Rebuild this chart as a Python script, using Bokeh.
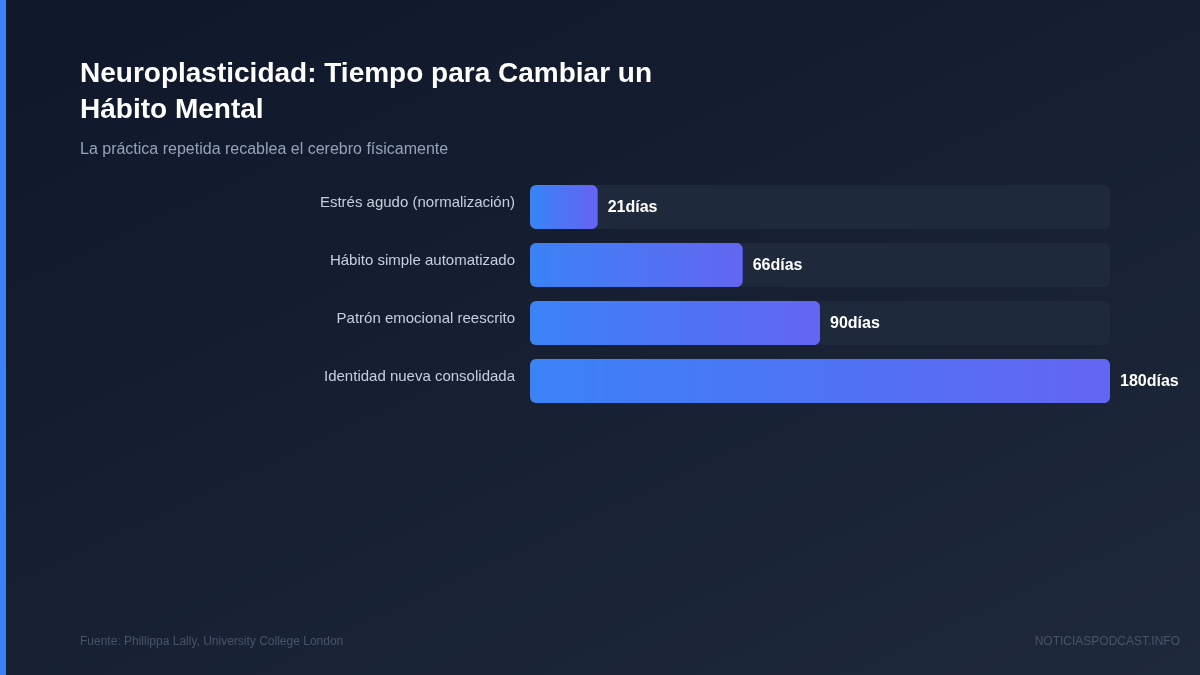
import numpy as np
from bokeh.core.properties import value
from bokeh.embed import file_html
from bokeh.models import ColumnDataSource, Label, Range1d
from bokeh.plotting import figure
from bokeh.resources import INLINE

TITLE_LINES = ["Neuroplasticidad: Tiempo para Cambiar un", "Hábito Mental"]
SUBTITLE = "La práctica repetida recablea el cerebro físicamente"
SOURCE = "Fuente: Phillippa Lally, University College London"
BRAND = "NOTICIASPODCAST.INFO"
categories = ["Estrés agudo (normalización)", "Hábito simple automatizado",
              "Patrón emocional reescrito", "Identidad nueva consolidada"]
days = [21, 66, 90, 180]
max_days = 180

# the svg backend draws half a pixel off: the figure sits at -1px and its ranges take up the other half
W, H = 1202, 677
OFF = 0.5
FONT = "Liberation Sans"
X0, PX_PER_DAY = 530, 580 / max_days
ROW0, ROW_STEP, BAR_H = 207, 58, 44
x_start, x_end = (-OFF - X0) / PX_PER_DAY, (W - OFF - X0) / PX_PER_DAY
y_bottom, y_top = -(H - OFF - ROW0) / ROW_STEP, (OFF + ROW0) / ROW_STEP

p = figure(width=W, height=H, output_backend="svg", toolbar_location=None,
           min_border=0, min_border_left=0, min_border_right=0, min_border_top=0, min_border_bottom=0,
           x_range=Range1d(x_start, x_end), y_range=Range1d(y_bottom, y_top),
           styles={"position": "fixed", "left": "-1px", "top": "-1px"})
p.xaxis.visible = False
p.yaxis.visible = False
p.grid.visible = False
p.outline_line_color = None
p.background_fill_color = "#0f172a"
p.border_fill_color = "#0f172a"

# page background: CSS-like linear gradient
ANGLE = np.radians(155)
yy, xx = np.mgrid[0:H, 0:W]
sx, sy = np.sin(ANGLE), -np.cos(ANGLE)
L = abs(W * sx) + abs(H * sy)
t = ((xx - W / 2) * sx + (yy - H / 2) * sy) / L + 0.5
c0, c1 = np.array([15, 23, 42]), np.array([30, 41, 59])
img = np.zeros((H, W), dtype=np.uint32)
view = img.view(dtype=np.uint8).reshape((H, W, 4))
for k in range(3):
    view[:, :, k] = np.round(c0[k] + (c1[k] - c0[k]) * t).astype(np.uint8)
view[:, :, 3] = 255
p.image_rgba(image=[img[::-1]], x=x_start, y=y_bottom, dw=W / PX_PER_DAY, dh=H / ROW_STEP)

# left accent stripe
p.quad(left=x_start, right=(6 - X0) / PX_PER_DAY, top=y_top, bottom=y_bottom,
       fill_color="#3b82f6", line_color=None)

rows = [-i for i in range(len(categories))]
bh = BAR_H / ROW_STEP
R = 6
dx, dy = R / PX_PER_DAY, R / ROW_STEP
ARC = np.linspace(0, np.pi / 2, 9)


def right_cap(row, v, color):
    """Right end of a bar: a flat-left piece with two true quarter circles, sized from the bar's value."""
    top, bottom = row + bh / 2, row - bh / 2
    cx = v - dx
    xs = [v - 2 * dx] + list(cx + dx * np.sin(ARC)) + list(cx + dx * np.cos(ARC)) + [v - 2 * dx]
    ys = [top] + list(top - dy + dy * np.cos(ARC)) + list(bottom + dy - dy * np.sin(ARC)) + [bottom]
    p.patch(x=xs, y=ys, fill_color=color, line_color=None)


# tracks
for row in rows:
    p.hbar(y=[row], left=0, right=max_days - dx, height=bh, fill_color="#1e293b", line_color=None, border_radius=R)
    right_cap(row, max_days, "#1e293b")

# gradient bars: flat strips painted from left to right, closed by a rounded cap
start, end = np.array([0x3b, 0x82, 0xf6]), np.array([0x63, 0x66, 0xf1])
for row, v in zip(rows, days):
    p.hbar(y=[row], left=0, right=v - dx, height=bh, fill_color="#3b82f6", line_color=None, border_radius=R)
    px = v * PX_PER_DAY
    n = max(8, int((px - 2 * R) / 6))
    for i in range(1, n + 1):
        left_px = R + (px - 3 * R) * i / n
        col = start + (end - start) * min(1.0, left_px / (px - R))
        p.hbar(y=[row], left=left_px / PX_PER_DAY, right=v - dx, height=bh, line_color=None,
               fill_color="#%02x%02x%02x" % tuple(int(round(c)) for c in col))
    right_cap(row, v, "#6366f1")

src = ColumnDataSource(dict(y=rows, cat=categories, v=days, lab=[f"{d}días" for d in days], zero=[0] * len(rows)))
p.text(x="zero", y="y", text="cat", source=src, x_offset=-15, y_offset=-5.5, text_align="right",
       text_baseline="middle", text_color="#c6cfdb", text_font=value(FONT), text_font_size="15px")
p.text(x="v", y="y", text="lab", source=src, x_offset=10, y_offset=-1, text_align="left",
       text_baseline="middle", text_color="#ffffff", text_font=value(FONT), text_font_size="16px",
       text_font_style="bold")


def label(txt, x, y, size, color, bold=False, align="left"):
    p.add_layout(Label(x=x + OFF, y=H - (y + OFF), x_units="screen", y_units="screen", text=txt, text_font=FONT,
                       text_font_size=size, text_color=color, text_align=align, text_baseline="middle",
                       text_font_style="bold" if bold else "normal"))


label(TITLE_LINES[0], 80, 72.5, "28px", "#ffffff", True)
label(TITLE_LINES[1], 80, 108.5, "28px", "#ffffff", True)
label(SUBTITLE, 80, 148, "16px", "#94a3b8")
label(SOURCE, 80, 640.5, "12px", "#475569")
label(BRAND, 1180, 640.5, "12px", "#475569", align="right")

open("out.html", "w").write(file_html(p, INLINE))
